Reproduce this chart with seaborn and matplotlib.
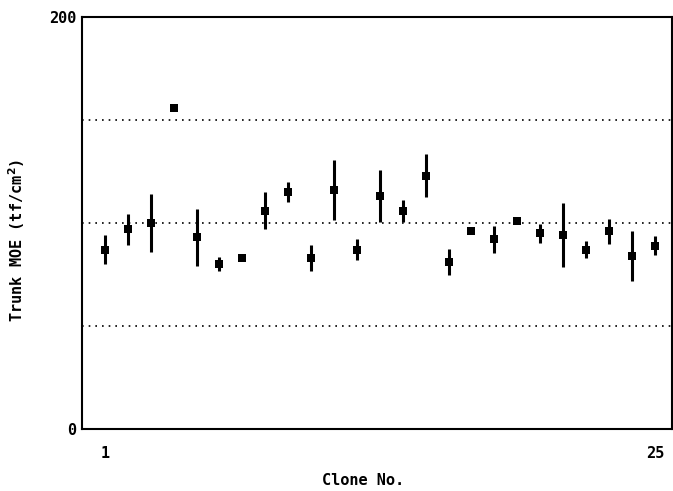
import numpy as np
import pandas as pd
import matplotlib
matplotlib.use("Agg")
import matplotlib.pyplot as plt
import seaborn as sns

# クローン番号と平均値・誤差
clone_no = list(range(1, 26))
moe_mean = [87, 97, 100, 156, 93, 80, 83, 106, 115, 83, 116, 87, 113,
            106, 123, 81, 96, 92, 101, 95, 94, 87, 96, 84, 89]
moe_err = [7, 7.5, 14, 0, 14, 3.5, 0, 9, 5, 6.5, 14.5, 5, 12.6,
           5.3, 10.6, 6.3, 0, 6.5, 0, 4.5, 15.5, 4.2, 6, 12.3, 4.7]
grid_levels = [50, 100, 150]

df = pd.DataFrame({"clone": clone_no, "moe": moe_mean, "err": moe_err})

sns.set_style("white")
plt.rcParams["font.family"] = ["DejaVu Sans Mono"]
plt.rcParams["font.weight"] = "bold"
plt.rcParams["text.color"] = "black"
plt.rcParams["axes.labelcolor"] = "black"
plt.rcParams["xtick.color"] = "black"
plt.rcParams["ytick.color"] = "black"

fig = plt.figure(figsize=(6.73, 4.91), dpi=100)
ax = fig.add_axes([0.1218, 0.1263, 0.8767, 0.8391])

# 点線のグリッド
for g in grid_levels:
    ax.axhline(g, color="black", linestyle=(0, (1, 3)), linewidth=1.2, zorder=1)

# 誤差棒
ax.errorbar(df["clone"], df["moe"], yerr=df["err"], fmt="none",
            ecolor="black", elinewidth=2.2, capsize=0, zorder=2)

# 平均値（四角マーカー）
sns.scatterplot(data=df, x="clone", y="moe", marker="s", s=32,
                color="black", edgecolor="black", linewidth=0, ax=ax, zorder=3)

ax.set_xlim(0, 25.75)
ax.set_ylim(0, 200)
ax.set_xticks(clone_no)
ax.set_xticklabels(["1"] + [""] * 23 + ["25"])
ax.set_yticks([0, 200])
ax.set_yticks(grid_levels, minor=True)
ax.tick_params(axis="x", direction="in", length=4, width=1.2, pad=12, labelsize=11)
ax.tick_params(axis="y", which="both", direction="in", length=3, width=1.2, labelsize=11, pad=4)

for sp in ax.spines.values():
    sp.set_linewidth(1.5)
    sp.set_color("black")

ax.set_xlabel("Clone No.", fontsize=11, fontweight="bold")
ax.set_ylabel("Trunk MOE (tf/cm$^\\mathbf{2}$)", fontsize=11, fontweight="bold")
ax.xaxis.set_label_coords(0.476, -0.107)
ax.yaxis.set_label_coords(-0.093, 0.459)

fig.savefig("out.png", dpi=100)
